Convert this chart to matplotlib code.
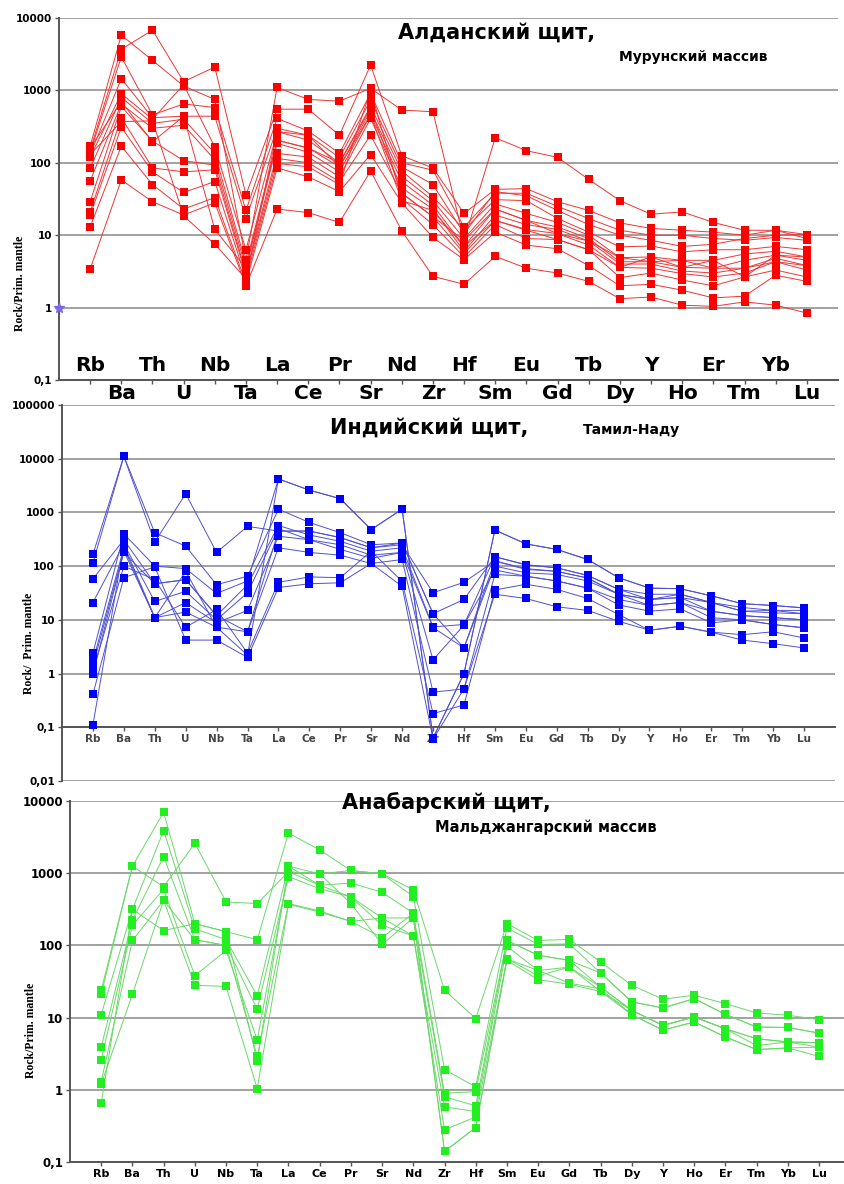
import matplotlib
matplotlib.use("Agg")
import matplotlib.pyplot as plt
from matplotlib.ticker import NullLocator, FixedLocator
from matplotlib.transforms import blended_transform_factory

plt.rcParams['font.family'] = ['DejaVu Sans']

elements = ["Rb", "Ba", "Th", "U", "Nb", "Ta", "La", "Ce", "Pr", "Sr", "Nd", "Zr",
            "Hf", "Sm", "Eu", "Gd", "Tb", "Dy", "Y", "Ho", "Er", "Tm", "Yb", "Lu"]

#---------- Алданский щит, Мурунский массив ----------#
murun = [
    [170, 5800, 2600, 1150, 750, 4.5, 1100, 750, 710, 1070, 535, 507, 8.5, 222, 147, 119, 59, 30, 19.5, 21, 15, 11.7, 11.7, 10.2],
    [150, 3700, 6800, 1320, 2100, 36, 550, 550, 240, 2240, 125, 85, 20, 43, 44, 29, 22, 14.8, 12.4, 11.7, 11, 10, 11.7, 9],
    [140, 2900, 460, 650, 580, 22, 410, 275, 135, 910, 100, 79, 13, 38, 38, 25, 17, 11.7, 10, 10, 9, 8.5, 9.3, 8.5],
    [130, 1450, 420, 440, 440, 17, 300, 240, 118, 735, 88, 50, 10.5, 40, 35, 22, 14, 10, 8.5, 7, 7.5, 9, 10, 10.2],
    [120, 900, 400, 1200, 165, 6.3, 270, 205, 100, 600, 77, 34, 12, 31, 30, 17, 11, 6.9, 7.1, 5.9, 6.3, 6.3, 7, 6.3],
    [84, 800, 350, 400, 135, 4, 205, 160, 88, 520, 65, 30, 9, 27, 20, 15, 10, 4.9, 5, 4.5, 4.5, 5.5, 6, 5.0],
    [56, 650, 300, 330, 110, 3.5, 185, 140, 75, 460, 55, 26, 7, 23, 16, 13, 9, 4.3, 4.3, 3.6, 3.5, 4.5, 5.3, 4.5],
    [29, 600, 200, 107, 93, 3, 135, 120, 64, 410, 45, 23, 6, 19, 14, 12, 8.3, 4.0, 4.0, 3.2, 3.0, 3.5, 4.8, 3.8],
    [21, 420, 85, 75, 80, 2.8, 115, 100, 55, 240, 38, 18, 5.6, 16, 12, 10.5, 7.3, 3.6, 3.5, 2.95, 2.65, 3.0, 4.3, 3.3],
    [19, 310, 75, 39, 55, 2.5, 98, 88, 50, 1000, 32, 14, 5, 14, 9, 8.7, 6.3, 2.6, 3.0, 2.4, 2.0, 2.65, 3.3, 2.65],
    [13, 170, 50, 23, 33, 2.2, 85, 64, 40, 130, 28, 9.3, 4.6, 11, 7.3, 6.5, 3.8, 2.0, 2.1, 1.74, 1.36, 1.44, 2.8, 2.3],
    [3.4, 58, 29, 19, 28, 2.0, 23, 20.5, 15, 77, 11.5, 2.7, 2.1, 5.1, 3.5, 3.0, 2.3, 1.33, 1.4, 1.08, 1.04, 1.2, 1.08, 0.84],
    [160, 700, 195, 440, 12, 3.5, 205, 160, 100, 560, 38, 18, 8.5, 23, 16, 10.5, 8.3, 4.9, 4.3, 4.5, 3.5, 3.5, 4.3, 3.8],
    [130, 370, 380, 18.5, 7.5, 2.5, 270, 240, 88, 460, 30, 22, 7, 16, 11.7, 8.7, 6.3, 3.6, 5, 3.6, 4.5, 2.65, 5.3, 5.0],
]

#---------- Индийский щит, Тамил-Наду ----------#
tamil = [
    [165, 11200, 418, 236, 45, 65, 1150, 650, 420, 250, 270, 13, 24, 150, 105, 93, 67, 37, 30, 30, 21, 17, 15, 15],
    [115, 11000, 280, 2230, 180, 550, 450, 450, 340, 220, 250, 32, 50, 125, 90, 80, 60, 30, 24, 26, 21, 14.5, 13.5, 13],
    [2.4, 400, 100, 90, 31, 53, 4200, 2600, 1800, 480, 1150, 0.063, 1.0, 470, 260, 205, 133, 61, 39, 38, 28, 20, 18.5, 16.7],
    [58, 310, 47, 56, 12, 45, 570, 380, 290, 190, 220, 7.4, 8.2, 150, 107, 93, 67, 37, 24, 30, 21, 14.5, 15, 13],
    [21, 260, 22, 34, 10, 32, 500, 310, 250, 160, 180, 7.2, 3.0, 100, 75, 70, 53, 30, 18.5, 21, 14.5, 12, 11, 10],
    [1.7, 220, 11, 21, 8.8, 15, 360, 310, 205, 140, 180, 1.8, 8.0, 85, 65, 53, 39, 24, 18.5, 21, 11, 10, 8.2, 7.1],
    [1.4, 190, 11, 14, 7.3, 6, 220, 180, 160, 112, 133, 0.45, 0.52, 70, 65, 53, 39, 19, 14.5, 16, 8.8, 10, 8.2, 7.1],
    [1.1, 100, 56, 7.3, 15.6, 2.4, 50, 63, 61, 190, 52, 0.18, 0.26, 36, 46, 37, 25, 12.6, 6.4, 7.6, 5.9, 5.3, 6, 4.6],
    [0.41, 61, 97, 4.2, 4.2, 2.0, 40, 47, 49, 112, 42, 0.06, 0.52, 30, 25, 17.5, 15, 9.4, 6.4, 7.6, 5.9, 4.2, 3.6, 3.0],
    [0.11, 250, 11, 80, 7.3, 2.2, 4200, 2600, 1800, 480, 1150, 0.063, 1.0, 470, 260, 205, 133, 61, 39, 38, 28, 20, 18.5, 16.7],
    [1.0, 180, 47, 56, 12, 6.0, 450, 450, 340, 220, 270, 13, 3.0, 124, 87, 80, 60, 30, 24, 26, 14.5, 12, 11, 10],
]

#---------- Анабарский щит, Мальджангарский массив ----------#
anabar = [
    [24, 1250, 650, 2600, 400, 380, 1050, 980, 1090, 980, 590, 24, 9.7, 200, 117, 121, 59, 28, 18, 20.4, 15.6, 11.6, 10.8, 9.4],
    [21, 1250, 7000, 200, 155, 120, 3600, 2100, 1090, 980, 475, 1.9, 1.1, 175, 103, 105, 41.5, 16.5, 13.6, 18.3, 11.1, 7.4, 7.3, 6.1],
    [11, 315, 3900, 170, 120, 20, 1250, 680, 730, 545, 280, 0.9, 0.94, 117, 73, 62, 41.5, 16.5, 13.6, 18.3, 11.1, 7.4, 7.3, 6.1],
    [3.9, 222, 1700, 120, 100, 13, 900, 610, 470, 240, 240, 0.8, 0.6, 117, 73, 62, 26.5, 12.6, 7.8, 10.2, 7, 5.1, 4.6, 4.5],
    [2.6, 190, 600, 38, 85, 4.9, 1050, 680, 470, 190, 135, 0.58, 0.5, 97, 45, 50, 26.5, 12.6, 7.8, 10.2, 7, 4.1, 4.6, 3.9],
    [1.3, 117, 420, 120, 100, 2.9, 380, 300, 215, 240, 135, 0.28, 0.42, 65, 45, 30, 25, 11, 6.7, 8.7, 5.4, 3.6, 3.8, 3.9],
    [1.2, 21, 420, 28, 27, 1.04, 370, 290, 215, 128, 280, 0.14, 0.30, 62, 33.5, 29, 23, 11, 6.7, 8.7, 5.4, 3.6, 3.8, 2.9],
    [0.65, 315, 160, 200, 155, 2.5, 1250, 980, 380, 103, 240, 0.14, 0.30, 65, 38, 50, 23, 12.6, 7.8, 10.2, 7, 5.1, 4.6, 4.5],
]

SERIF = ['Liberation Serif', 'DejaVu Serif']


def dec_label(v):
    s = ("%g" % v) if v >= 1 else ("%g" % v).replace(".", ",")
    return s


def setup(ax, series, lc, mc, ylo, yhi, xhi, ytick_fs):
    x = list(range(len(elements)))
    for s in series:
        ax.plot(x, s, '-', color=lc, lw=0.7, zorder=2)
        ax.plot(x, s, 's', color=mc, ms=5.5, mew=0, zorder=3)
    ax.set_yscale('log')
    ax.set_ylim(ylo, yhi)
    ax.set_xlim(-1, xhi)
    ticks = []
    v = ylo
    while v <= yhi * 1.01:
        ticks.append(v)
        v *= 10
    ax.yaxis.set_major_locator(FixedLocator(ticks))
    ax.yaxis.set_minor_locator(NullLocator())
    ax.set_yticklabels([dec_label(t) for t in ticks], fontsize=ytick_fs, fontweight='bold')
    ax.yaxis.grid(True, color='#9a9a9a', lw=1.3)
    ax.set_axisbelow(True)
    ax.set_xticks(x)
    for sp in ['top', 'right']:
        ax.spines[sp].set_visible(False)
    ax.spines['left'].set_color('#555555')
    ax.spines['left'].set_linewidth(1.4)
    ax.spines['bottom'].set_color('#555555')
    ax.spines['bottom'].set_linewidth(1.4)
    ax.tick_params(axis='both', length=3, width=1, color='#555555', pad=2)
    ax.set_facecolor('none')


fig = plt.figure(figsize=(8.44, 11.84), dpi=100)
W, H = 844.0, 1184.0


def box(l, r, t, b):
    return [l / W, 1 - b / H, (r - l) / W, (b - t) / H]


# top panel
ax1 = fig.add_axes(box(59, 838, 18, 380))
setup(ax1, murun, '#ee3535', '#ff0000', 0.1, 10000, 24, 7.5)
ax1.set_xticklabels([])
tr = blended_transform_factory(ax1.transData, ax1.transAxes)
for i, name in enumerate(elements):
    if i % 2 == 0:
        ax1.text(i, 0.015, name, transform=tr, ha='center', va='bottom', fontsize=14.5, fontweight='bold')
    else:
        ax1.text(i, -0.012, name, transform=tr, ha='center', va='top', fontsize=14.5, fontweight='bold')
ax1.plot(-1, 1, marker='*', color='#7b68ee', ms=7, clip_on=False, zorder=5)
fig.text(398 / W, 1 - 33 / H, "Алданский щит,", fontsize=15, fontweight='bold', va='center', ha='left')
fig.text(619 / W, 1 - 57 / H, "Мурунский массив", fontsize=10, fontweight='bold', va='center', ha='left')
fig.text(20 / W, 1 - 283 / H, "Rock/Prim. mantle", rotation=90, fontsize=8.5, fontweight='bold',
         family=SERIF, va='center', ha='center')

# middle panel
ax2 = fig.add_axes(box(62, 835, 405, 781))
setup(ax2, tamil, '#5050d0', '#0000ff', 0.01, 100000, 24, 7.5)
ax2.spines['bottom'].set_position(('data', 0.1))
ax2.set_xticklabels(elements, fontsize=7.5, fontweight='bold', color='#444444')
fig.text(330 / W, 1 - 428 / H, "Индийский щит,", fontsize=15, fontweight='bold', va='center', ha='left')
fig.text(583 / W, 1 - 430 / H, "Тамил-Наду", fontsize=10, fontweight='bold', va='center', ha='left')
fig.text(29 / W, 1 - 643 / H, "Rock/  Prim. mantle", rotation=90, fontsize=8.5, fontweight='bold',
         family=SERIF, va='center', ha='center')

# bottom panel
ax3 = fig.add_axes(box(70, 844, 801, 1162))
setup(ax3, anabar, '#6ad86a', '#22ee22', 0.1, 10000, 23.8, 8.5)
ax3.set_xticklabels(elements, fontsize=8, fontweight='bold')
fig.text(342 / W, 1 - 803 / H, "Анабарский щит,", fontsize=15, fontweight='bold', va='center', ha='left')
fig.text(435 / W, 1 - 827 / H, "Мальджангарский массив", fontsize=10.5, fontweight='bold', va='center', ha='left')
fig.text(31 / W, 1 - 1030 / H, "Rock/Prim. mantle", rotation=90, fontsize=8.5, fontweight='bold',
         family=SERIF, va='center', ha='center')

fig.savefig("out.png", dpi=100)
